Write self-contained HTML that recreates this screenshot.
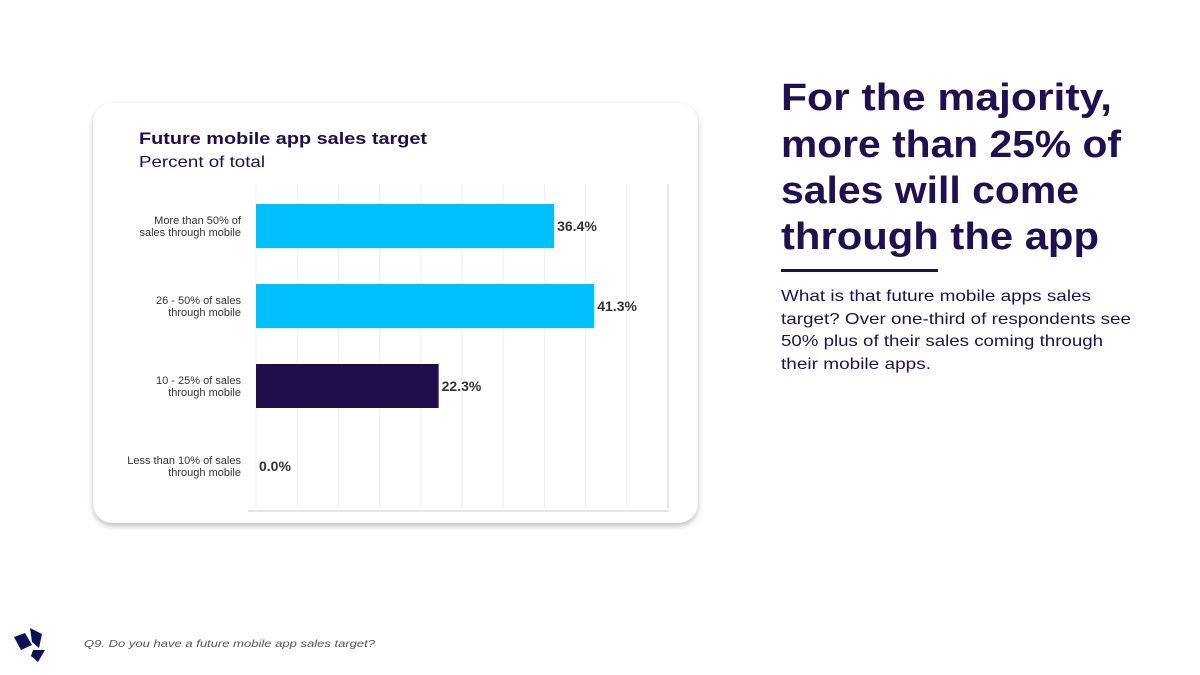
<!DOCTYPE html>
<html><head><meta charset="utf-8"><style>
html,body{margin:0;padding:0;background:#fff;}
svg{display:block;font-family:"Liberation Sans",sans-serif;}
</style></head><body>
<svg width="1200" height="675" viewBox="0 0 1200 675">
<defs><filter id="sh" x="-5%" y="-5%" width="110%" height="115%"><feDropShadow dx="0" dy="3" stdDeviation="3" flood-color="#000" flood-opacity="0.25"/></filter></defs>
<rect x="93" y="103" width="605" height="420" rx="20" fill="#fff" filter="url(#sh)"/>
<text x="139" y="144" font-size="17" font-weight="bold" fill="#1f0c4b" textLength="288" lengthAdjust="spacingAndGlyphs">Future mobile app sales target</text>
<text x="139" y="167" font-size="16" fill="#1f0c4b" textLength="126" lengthAdjust="spacingAndGlyphs">Percent of total</text>
<g id="chart"></g>
<text font-size="38" font-weight="bold" fill="#21104f">
<tspan x="781" y="110" textLength="331" lengthAdjust="spacingAndGlyphs">For the majority,</tspan>
<tspan x="781" y="157" textLength="340" lengthAdjust="spacingAndGlyphs">more than 25% of</tspan>
<tspan x="781" y="203" textLength="298" lengthAdjust="spacingAndGlyphs">sales will come</tspan>
<tspan x="781" y="249" textLength="318" lengthAdjust="spacingAndGlyphs">through the app</tspan>
</text>
<rect x="781" y="269" width="157" height="3" fill="#21104f"/>
<text font-size="16" fill="#21104f">
<tspan x="781" y="301" textLength="310" lengthAdjust="spacingAndGlyphs">What is that future mobile apps sales</tspan>
<tspan x="781" y="324" textLength="350" lengthAdjust="spacingAndGlyphs">target? Over one-third of respondents see</tspan>
<tspan x="781" y="346" textLength="322" lengthAdjust="spacingAndGlyphs">50% plus of their sales coming through</tspan>
<tspan x="781" y="369" textLength="150" lengthAdjust="spacingAndGlyphs">their mobile apps.</tspan>
</text>
<g fill="#0c1258">
<polygon points="14,637 25,633 32,645 21,650"/>
<polygon points="30,628 42,634 39,648 32,642"/>
<polygon points="33,650 45,650 38,662 31,656"/>
</g>
<text x="84" y="647" font-size="10" font-style="italic" fill="#555" textLength="291" lengthAdjust="spacingAndGlyphs">Q9. Do you have a future mobile app sales target?</text>
</svg>
<script>
const categories=[["More than 50% of","sales through mobile"],["26 - 50% of sales","through mobile"],["10 - 25% of sales","through mobile"],["Less than 10% of sales","through mobile"]];
const values=[36.4,41.3,22.3,0.0];
const labels=["36.4%","41.3%","22.3%","0.0%"];
const colors=["#00c0fb","#00c0fb","#200d4c","#200d4c"];
const gridTicks=[0,1,2,3,4,5,6,7,8,9,10];
const NS="http://www.w3.org/2000/svg";
const g=document.getElementById("chart");
const x0=256,pxPer=8.19,gridStep=41.2,yTop=184,band=80,barH=44,bandStart=186;
const xs=v=>x0+v*pxPer;
const xg=t=>x0+t*gridStep;
const yc=i=>bandStart+band*i+band/2;
function mk(t,a){const e=document.createElementNS(NS,t);for(const k in a)e.setAttribute(k,a[k]);g.appendChild(e);return e;}
gridTicks.forEach((t,i)=>{const l=mk("line",{x1:xg(t),x2:xg(t),y1:yTop,y2:508,stroke:i==gridTicks.length-1?"#ccc":"#eee","stroke-width":1});

});
const ax=mk("line",{x1:248,x2:xg(10)+1,y1:511,y2:511,stroke:"#ccc","stroke-width":1});


values.forEach((v,i)=>{
 const c=yc(i);
 const r=mk("rect",{x:x0,y:c-barH/2,width:xs(v)-x0,height:barH,fill:colors[i]});
 
 
 const t=mk("text",{x:xs(v)+3,y:c+5,"font-size":14,"font-weight":"bold",fill:"#333"});t.textContent=labels[i];
 
 
 categories[i].forEach((s,j)=>{const ct=mk("text",{x:241,y:c-2+j*12,"font-size":11,fill:"#333","text-anchor":"end"});ct.textContent=s;
 
 });
});
</script>
</body></html>
